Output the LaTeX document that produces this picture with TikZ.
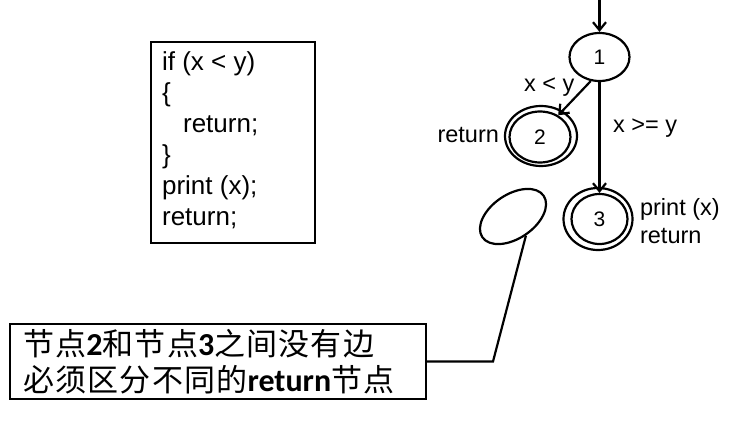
\documentclass[tikz,border=0pt]{standalone}
\usepackage{fontspec}
\setmainfont{Liberation Sans}
\newfontfamily\cjk[LetterSpace=4]{Noto Sans CJK SC}
\newfontfamily\latb{Carlito}
\usetikzlibrary{arrows.meta,shapes.geometric}
\newcommand{\lat}[1]{{\latb\bfseries\fontsize{32}{36}\selectfont #1}}
\begin{document}
\begin{tikzpicture}[x=1pt,y=-1pt,
  line width=2.2pt,
  >={Straight Barb[length=8pt,width=13pt]},
  cfg/.style={ellipse,draw,inner sep=0pt},
  lbl/.style={inner sep=0pt,anchor=base west,font=\fontsize{23.5}{28}\selectfont},
  codeline/.style={inner sep=0pt,anchor=base west,font=\fontsize{26}{31}\selectfont},
  num/.style={font=\fontsize{21}{26}\selectfont},
  cjkline/.style={inner sep=0pt,anchor=base west,font=\cjk\fontsize{31}{36}\selectfont}
]
\useasboundingbox (0,0) rectangle (739,423);

% code box
\node[draw,inner sep=0pt,minimum width=164pt,minimum height=201pt] (codebox) at (233,142.5) {};
\foreach \t/\xx/\yy [count=\i] in {{if (x < y)}/161/70, \{/161/101, return;/182/132, \}/161/163, {print (x);}/161/194, return;/161/225}
  \node[codeline] (c\i) at (\xx,\yy) {\t};

% control flow graph
\node[cfg,minimum width=60pt,minimum height=48pt,num] (n1) at (599.5,57) {1};
\node[cfg,minimum width=72pt,minimum height=60pt] (n2) at (541,136) {};
\node[cfg,minimum width=61pt,minimum height=51pt,num] (n2in) at (540,137) {2};
\node[cfg,minimum width=69pt,minimum height=62pt] (n3) at (598,219) {};
\node[cfg,minimum width=56pt,minimum height=50pt,num] (n3in) at (599.5,219) {3};

\coordinate (top) at (599.5,0);
\draw[->] (top) -- (n1);
\draw[->] (n1.250) -- (n2in.50);
\draw[->] (n1) -- (n3in);

\node[lbl] (l1) at (523,91) {x < y};
\node[lbl] (l2) at (612,132) {x >= y};
\node[lbl,anchor=base east] (l3) at (500,142) {return};
\node[lbl] (l4) at (639,215) {print (x)};
\node[lbl] (l5) at (639,243) {return};

% empty oval and note
\node[ellipse,draw,inner sep=0pt,minimum width=74pt,minimum height=44pt,rotate=34] (oval) at (513,216.5) {};
\node[draw,inner sep=0pt,minimum width=416pt,minimum height=75pt] (note) at (218,361.5) {};
\node[cjkline] (t1) at (22,355) {节点\lat{2}和节点\lat{3}之间没有边};
\node[cjkline] (t2) at (22,391) {必须区分不同的\lat{return}节点};
\coordinate (bend) at (493,362);
\draw (note.east) -- (bend |- note.east) -- (oval.south);
\end{tikzpicture}
\end{document}
